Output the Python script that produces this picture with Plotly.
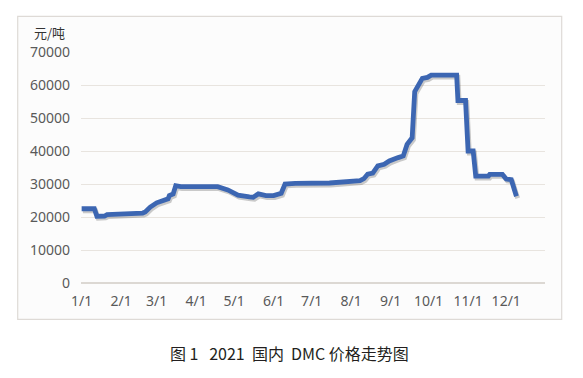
import plotly.graph_objects as go
import pandas as pd

# ---- data ----
dates = ["2021-01-01", "2021-01-11", "2021-01-13", "2021-01-19", "2021-01-21",
         "2021-01-28", "2021-02-01", "2021-02-10", "2021-02-18", "2021-02-20",
         "2021-02-24", "2021-03-01", "2021-03-07", "2021-03-10", "2021-03-11",
         "2021-03-14", "2021-03-16", "2021-03-20", "2021-04-01", "2021-04-18",
         "2021-04-26", "2021-05-04", "2021-05-13", "2021-05-16", "2021-05-20",
         "2021-05-26", "2021-06-01", "2021-06-05", "2021-06-07", "2021-06-10",
         "2021-06-18", "2021-07-15", "2021-08-01", "2021-08-08", "2021-08-11",
         "2021-08-14", "2021-08-18", "2021-08-22", "2021-08-27", "2021-08-31",
         "2021-09-07", "2021-09-11", "2021-09-14", "2021-09-17", "2021-09-18",
         "2021-09-20", "2021-09-22", "2021-09-26", "2021-09-30", "2021-10-03",
         "2021-10-23", "2021-10-24", "2021-10-30", "2021-11-01", "2021-11-05",
         "2021-11-07", "2021-11-17", "2021-11-18", "2021-11-28", "2021-12-01",
         "2021-12-05", "2021-12-07", "2021-12-09"]
prices = [22500, 22500, 20200, 20300, 20700,
          20800, 21000, 21100, 21200, 21500,
          23000, 24300, 25000, 25500, 26500,
          27000, 29500, 29200, 29200, 29200,
          28200, 26600, 26100, 26000, 27000,
          26500, 26500, 27000, 27200, 30000,
          30200, 30300, 30600, 31000, 31600,
          33000, 33300, 35500, 36000, 37000,
          38000, 38500, 42000, 43800, 44000,
          58000, 59500, 62000, 62300, 63000,
          63000, 55300, 55300, 40000, 40000,
          32400, 32400, 32900, 32900, 31500,
          31300, 29000, 26300]

tick_dates = ["2021-%02d-01" % m for m in range(1, 13)]
tick_labels = ["%d/1" % m for m in range(1, 13)]
y_ticks = [0, 10000, 20000, 30000, 40000, 50000, 60000, 70000]

unit_label = "元/吨"
caption = "图\u00a01\u00a0\u00a0\u00a02021\u00a0\u00a0国内\u00a0\u00a0DMC\u00a0价格走势图"

# ---- figure ----
x = pd.to_datetime(dates)
shadow_x = x + pd.Timedelta(days=1)
shadow_y = [p - 600 for p in prices]

fig = go.Figure()
fig.add_trace(go.Scatter(x=shadow_x, y=shadow_y, mode="lines",
                         line=dict(color="rgba(70,70,70,0.28)", width=4.8),
                         hoverinfo="skip", showlegend=False))
fig.add_trace(go.Scatter(x=x, y=prices, mode="lines",
                         line=dict(color="#3c66b2", width=4.8),
                         showlegend=False))

tick_font = dict(family="Noto Sans, Noto Sans CJK SC, sans-serif", size=14, color="#595959")

fig.update_layout(
    width=583, height=378,
    margin=dict(l=81, r=38, t=52, b=95),
    paper_bgcolor="white",
    plot_bgcolor="rgba(0,0,0,0)",
    xaxis=dict(type="date", range=["2020-12-31 12:00", "2021-12-31 12:00"],
               tickmode="array", tickvals=tick_dates, ticktext=tick_labels,
               showgrid=False, showline=False, zeroline=False, ticks="",
               tickfont=tick_font, ticklabelstandoff=8, fixedrange=True),
    yaxis=dict(range=[0, 70000], tickmode="array", tickvals=y_ticks,
               tickformat="d", showgrid=True, gridcolor="#e8e4df", gridwidth=1,
               zeroline=True, zerolinecolor="#dcd8d3", zerolinewidth=1.5,
               showline=False, ticks="", tickfont=tick_font,
               ticklabelstandoff=10, fixedrange=True),
    shapes=[dict(type="rect", xref="paper", yref="paper",
                 x0=-0.1364, x1=1.036, y0=-0.1576, y1=1.1545,
                 line=dict(color="#dedad6", width=1.2),
                 fillcolor="#fcfcfc", layer="below")],
    annotations=[
        dict(text=unit_label, xref="paper", yref="paper", x=-0.030, y=1.084,
             xanchor="right", yanchor="middle", showarrow=False,
             font=dict(family="Noto Sans CJK SC, sans-serif", size=13, color="#333333")),
        dict(text=caption, xref="paper", yref="paper", x=0.449, y=-0.305,
             xanchor="center", yanchor="middle", showarrow=False,
             font=dict(family="Noto Sans CJK SC, sans-serif", size=16, color="#231f20")),
    ],
)

fig.write_html("out.html")
